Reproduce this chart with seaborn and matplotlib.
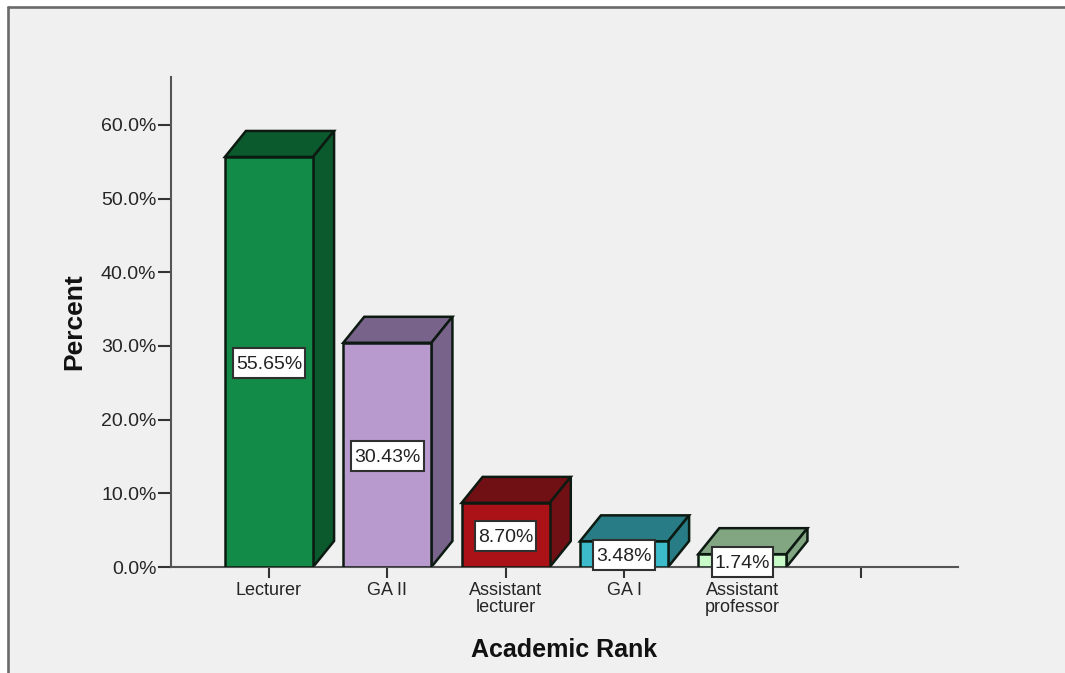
import matplotlib
matplotlib.use("Agg")
import matplotlib.pyplot as plt
from matplotlib.patches import Polygon, Rectangle
from matplotlib.lines import Line2D
from matplotlib.transforms import IdentityTransform
import pandas as pd
import seaborn as sns

categories = ["Lecturer", "GA II", "Assistant\nlecturer", "GA I", "Assistant\nprofessor", " "]
percents = [55.65, 30.43, 8.70, 3.48, 1.74, 0.0]
value_labels = ["55.65%", "30.43%", "8.70%", "3.48%", "1.74%", ""]
front_colors = ["#128a48", "#b89ace", "#ab1218", "#3cbccb", "#c8fbc8", "#ffffff"]
top_colors = ["#0b5a2d", "#78648a", "#701014", "#277c85", "#82a682", "#ffffff"]

W, H = 1065, 673
BG = "#f0f0f0"
EDGE = "#0c1a12"
sns.set_style("white")
plt.rcParams["font.family"] = ["Liberation Sans", "DejaVu Sans"]

fig = plt.figure(figsize=(W / 100, H / 100), dpi=100, facecolor="white")
fig.patches.append(Rectangle((8 / W, 0), (W - 8) / W, (H - 7) / H, transform=fig.transFigure,
                             facecolor=BG, edgecolor="none", zorder=-5))
for xs, ys in [((8, W), (7, 7)), ((8, 8), (7, H))]:
    fig.add_artist(Line2D([x / W for x in xs], [1 - y / H for y in ys], color="#6a6a6a", lw=1.9))

ax = fig.add_axes([171 / W, 1 - 567 / H, (958 - 171) / W, (567 - 77) / H])
ax.patch.set_alpha(0)

df = pd.DataFrame({"rank": categories, "percent": percents})
sns.barplot(data=df, x="rank", y="percent", order=categories, hue="rank", hue_order=categories,
            palette=dict(zip(categories, front_colors)), legend=False, width=0.745,
            edgecolor=EDGE, linewidth=1.8, saturation=1, ax=ax)

XMIN, XMAX = -0.828, 5.822
ax.set_xlim(XMIN, XMAX)
ax.set_ylim(0, 66.5)
DX = 21 * (XMAX - XMIN) / (958 - 171)
DY = 26 * 66.5 / (567 - 77)

fig.canvas.draw()
renderer = fig.canvas.get_renderer()
for p, top, label in zip(ax.patches, top_colors, value_labels):
    x0, w, h = p.get_x(), p.get_width(), p.get_height()
    if h <= 0:
        p.set_visible(False)
        continue
    p.set_zorder(3)
    ax.add_patch(Polygon([(x0, h), (x0 + DX, h + DY), (x0 + w + DX, h + DY), (x0 + w, h)], closed=True,
                         facecolor=top, edgecolor=EDGE, lw=1.8, zorder=2, clip_on=False))
    ax.add_patch(Polygon([(x0 + w, 0), (x0 + w + DX, DY), (x0 + w + DX, h + DY), (x0 + w, h)], closed=True,
                         facecolor=top, edgecolor=EDGE, lw=1.8, zorder=2, clip_on=False))
    t = ax.text(x0 + w / 2, h / 2, label, ha="center", va="center", fontsize=14, color="#222222", zorder=6)
    ext = t.get_window_extent(renderer)
    cy = ext.y0 + ext.height / 2 - 1
    ax.add_patch(Rectangle((ext.x0 - 3, cy - 15), ext.width + 6, 30, transform=IdentityTransform(),
                           facecolor="white", edgecolor="#303030", lw=1.5, zorder=5, clip_on=False))
    t.set_y(h / 2 - 0.35)

sns.despine(ax=ax, top=True, right=True)
for s in ("left", "bottom"):
    ax.spines[s].set_color("#555555")
    ax.spines[s].set_linewidth(1.5)

ax.set_yticks([0, 10, 20, 30, 40, 50, 60])
ax.set_yticklabels([f"{v:.1f}%" for v in [0, 10, 20, 30, 40, 50, 60]], fontsize=14, color="#252525")
ax.set_xticks(range(len(categories)))
ax.set_xticklabels(categories, fontsize=13, color="#252525", linespacing=1.0)
ax.tick_params(axis="y", length=9.5, width=1.5, color="#333333", pad=1, left=True)
ax.tick_params(axis="x", length=8, width=1.5, color="#333333", pad=3, bottom=True)

fig.text(564 / W, 1 - 650 / H, "Academic Rank", fontsize=18, fontweight="bold", color="#111111", ha="center", va="center")
fig.text(74 / W, 1 - 322 / H, "Percent", fontsize=19, fontweight="bold", color="#111111", rotation=90, ha="center", va="center")
ax.set_xlabel("")
ax.set_ylabel("")

fig.savefig("out.png", dpi=100, facecolor=fig.get_facecolor())
